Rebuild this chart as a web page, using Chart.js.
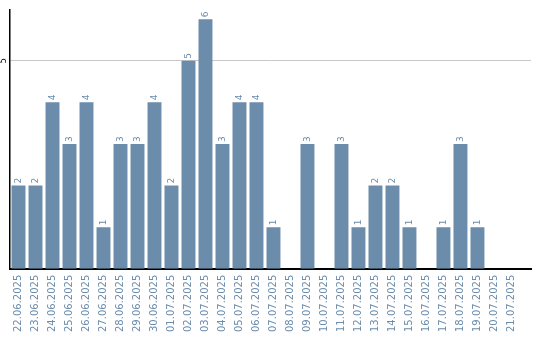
<!DOCTYPE html>
<html><head><meta charset="utf-8">
<script src="https://cdn.jsdelivr.net/npm/chart.js@4"></script>
<style>html,body{margin:0;padding:0;background:#fff}#w{width:540px;height:340px}</style>
</head><body><div id="w"><canvas id="c"></canvas></div>
<script>
const categories = ["22.06.2025","23.06.2025","24.06.2025","25.06.2025","26.06.2025","27.06.2025","28.06.2025","29.06.2025","30.06.2025","01.07.2025","02.07.2025","03.07.2025","04.07.2025","05.07.2025","06.07.2025","07.07.2025","08.07.2025","09.07.2025","10.07.2025","11.07.2025","12.07.2025","13.07.2025","14.07.2025","15.07.2025","16.07.2025","17.07.2025","18.07.2025","19.07.2025","20.07.2025","21.07.2025"];
const values = [2,2,4,3,4,1,3,3,4,2,5,6,3,4,4,1,0,3,0,3,1,2,2,1,0,1,3,1,0,0];
const yTicks = [5];
const barColor = '#6b8cab';
const FONT = 'DejaVu Sans';

const labelPlugin = {
  id: 'labels',
  afterDatasetsDraw(chart) {
    const ctx = chart.ctx;
    const meta = chart.getDatasetMeta(0);
    ctx.save();
    ctx.fillStyle = barColor;
    ctx.font = '9px "' + FONT + '"';
    ctx.textAlign = 'left';
    ctx.textBaseline = 'middle';
    meta.data.forEach((bar, i) => {
      const v = values[i];
      if (!v) return;
      ctx.save();
      ctx.translate(bar.x, bar.y - 2);
      ctx.rotate(-Math.PI / 2);
      ctx.fillText(String(v), 0, 0);
      ctx.restore();
    });
    const ys = chart.scales.y;
    ctx.fillStyle = '#000';
    ctx.font = '8px "' + FONT + '"';
    ctx.textAlign = 'center';
    ctx.textBaseline = 'middle';
    yTicks.forEach(t => {
      ctx.save();
      ctx.translate(4, ys.getPixelForValue(t));
      ctx.rotate(-Math.PI / 2);
      ctx.fillText(String(t), 0, 0);
      ctx.restore();
    });
    ctx.restore();
  }
};

new Chart(document.getElementById('c'), {
  type: 'bar',
  data: { labels: categories, datasets: [{ data: values, backgroundColor: barColor, barPercentage: 0.82, categoryPercentage: 1.0 }] },
  options: {
    responsive: true, maintainAspectRatio: false, animation: false,
    layout: { padding: { top: 10, right: 9, bottom: 2, left: 0 } },
    plugins: { legend: { display: false }, tooltip: { enabled: false } },
    scales: {
      x: {
        afterBuildTicks(s) { s._valueRange = categories.length + 0.65; },
        grid: { display: false, drawTicks: false },
        border: { color: '#000', width: 2 },
        ticks: { color: barColor, font: { family: FONT, size: 10 }, minRotation: 90, maxRotation: 90, autoSkip: false, padding: 6 }
      },
      y: {
        min: 0, max: 6.22,
        afterFit(s) { s.width = 10; },
        afterBuildTicks(s) { s.ticks = yTicks.map(v => ({ value: v })); },
        grid: { color: '#c8c8c8', drawTicks: false, lineWidth: 1 },
        border: { color: '#000', width: 1.5 },
        ticks: { display: false }
      }
    }
  },
  plugins: [labelPlugin]
});
</script></body></html>
